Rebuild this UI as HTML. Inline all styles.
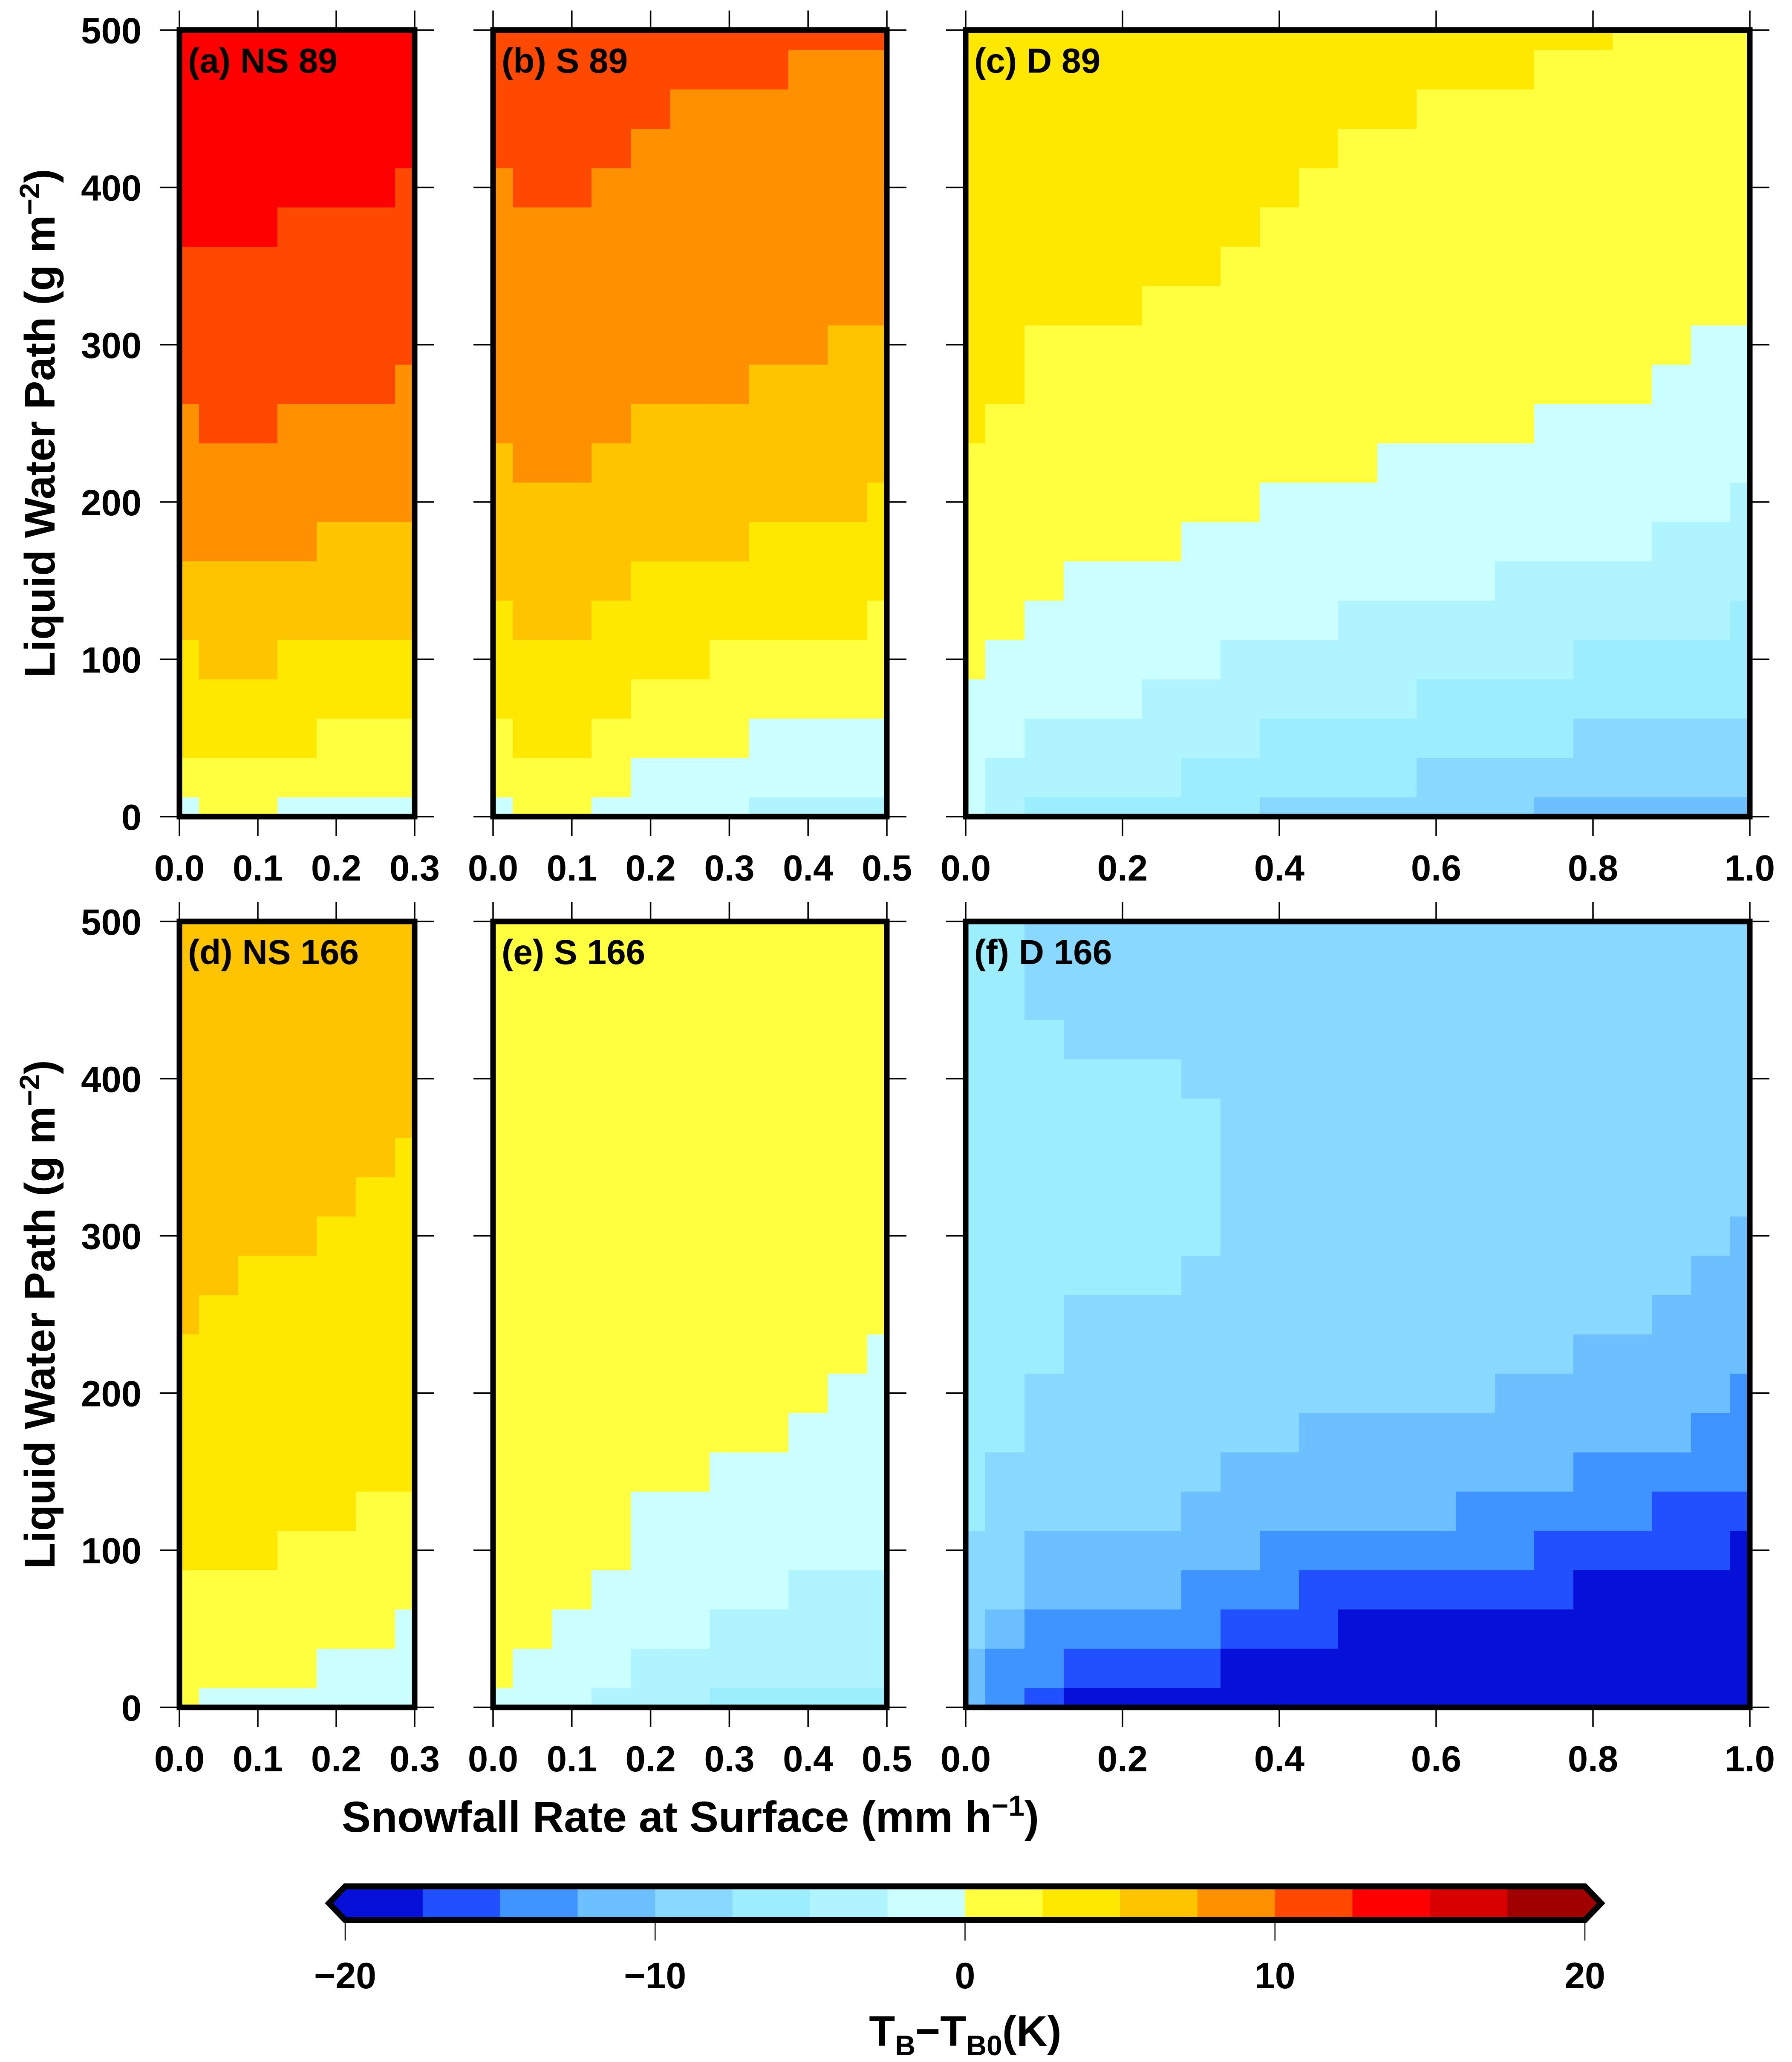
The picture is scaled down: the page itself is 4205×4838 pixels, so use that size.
<!DOCTYPE html>
<html>
<head>
<meta charset="utf-8">
<style>
html,body{margin:0;padding:0;background:#fff;}
svg{display:block;}
text{font-family:"Liberation Sans",Arial,sans-serif;font-weight:bold;fill:#000;}
</style>
</head>
<body>
<svg id="fig" xmlns="http://www.w3.org/2000/svg" width="4205" height="4838" viewBox="0 0 4205 4838">
<rect x="0" y="0" width="4205" height="4838" fill="#fff"/>
<g id="cells"></g>
<g id="frames"></g>
<g id="labels"></g>
<g id="cbar"></g>
</svg>
<script>
// ---- colour levels (bin edges, K) ----
const levelEdges = [-20,-17.5,-15,-12.5,-10,-7.5,-5,-2.5,0,2.5,5,7.5,10,12.5,15,17.5,20];
const levelColors = ["#0610d8","#2050ff","#4094ff","#6cc0ff","#88d8ff","#9ceeff","#b0f4ff","#ccffff","#ffff40","#ffe800","#ffc400","#ff9000","#ff4800","#ff0000","#d80000","#a00000"];
const cbarTicks = [-20,-10,0,10,20];
const cbarTickLabels = ["\u221220","\u221210","0","10","20"];

// ---- axes ----
const lwpTicks = [0,100,200,300,400,500];
const snowTicksNS = [0,0.1,0.2,0.3];
const snowTicksS = [0,0.1,0.2,0.3,0.4,0.5];
const snowTicksD = [0,0.2,0.4,0.6,0.8,1.0];
const snowStep = 0.05;   // grid spacing of snowfall rate
const lwpStep = 25;      // grid spacing of LWP

// ---- data: each array = one snowfall column, values (TB-TB0, K) for LWP 0,25,...,500 ----
const dataA = [
[-1,1,4,4,4,6,6,9,9,9,9,11,11,11,11,14,14,14,14,14,14],
[1,1,4,4,6,6,6,9,9,9,11,11,11,11,11,14,14,14,14,14,14],
[1,1,4,4,6,6,6,9,9,9,11,11,11,11,11,14,14,14,14,14,14],
[-1,1,4,4,4,6,6,9,9,9,9,11,11,11,11,11,14,14,14,14,14],
[-1,1,1,4,4,6,6,6,9,9,9,11,11,11,11,11,14,14,14,14,14],
[-1,1,1,4,4,6,6,6,9,9,9,11,11,11,11,11,14,14,14,14,14],
[-1,1,1,4,4,6,6,6,9,9,9,9,11,11,11,11,11,14,14,14,14]];
const dataB = [
[-1,1,1,4,4,4,6,6,6,6,9,9,9,9,9,9,9,11,11,11,11],
[1,1,4,4,4,6,6,6,6,9,9,9,9,9,9,9,11,11,11,11,11],
[1,1,4,4,4,6,6,6,6,9,9,9,9,9,9,9,11,11,11,11,11],
[-1,1,1,4,4,4,6,6,6,6,9,9,9,9,9,9,9,11,11,11,11],
[-1,-1,1,1,4,4,4,6,6,6,6,9,9,9,9,9,9,9,11,11,11],
[-1,-1,1,1,4,4,4,6,6,6,6,9,9,9,9,9,9,9,9,11,11],
[-1,-1,1,1,1,4,4,6,6,6,6,9,9,9,9,9,9,9,9,11,11],
[-4,-1,-1,1,1,4,4,4,6,6,6,6,9,9,9,9,9,9,9,11,11],
[-4,-1,-1,1,1,4,4,4,6,6,6,6,9,9,9,9,9,9,9,9,11],
[-4,-1,-1,1,1,4,4,4,6,6,6,6,6,9,9,9,9,9,9,9,11],
[-4,-1,-1,1,1,1,4,4,4,6,6,6,6,9,9,9,9,9,9,9,11]];
const dataC = [
[-1,-1,-1,-1,1,1,1,1,1,1,4,4,4,4,4,4,4,4,4,4,4],
[-4,-4,-1,-1,-1,1,1,1,1,1,1,4,4,4,4,4,4,4,4,4,4],
[-6,-4,-4,-1,-1,-1,1,1,1,1,1,1,1,4,4,4,4,4,4,4,4],
[-6,-4,-4,-1,-1,-1,-1,1,1,1,1,1,1,4,4,4,4,4,4,4,4],
[-6,-4,-4,-1,-1,-1,-1,1,1,1,1,1,1,4,4,4,4,4,4,4,4],
[-6,-4,-4,-4,-1,-1,-1,1,1,1,1,1,1,1,4,4,4,4,4,4,4],
[-6,-6,-4,-4,-1,-1,-1,-1,1,1,1,1,1,1,4,4,4,4,4,4,4],
[-6,-6,-4,-4,-4,-1,-1,-1,1,1,1,1,1,1,1,4,4,4,4,4,4],
[-9,-6,-6,-4,-4,-1,-1,-1,-1,1,1,1,1,1,1,1,4,4,4,4,4],
[-9,-6,-6,-4,-4,-1,-1,-1,-1,1,1,1,1,1,1,1,1,4,4,4,4],
[-9,-6,-6,-4,-4,-4,-1,-1,-1,1,1,1,1,1,1,1,1,1,4,4,4],
[-9,-6,-6,-4,-4,-4,-1,-1,-1,-1,1,1,1,1,1,1,1,1,4,4,4],
[-9,-9,-6,-6,-4,-4,-1,-1,-1,-1,1,1,1,1,1,1,1,1,1,4,4],
[-9,-9,-6,-6,-4,-4,-1,-1,-1,-1,1,1,1,1,1,1,1,1,1,4,4],
[-9,-9,-6,-6,-4,-4,-4,-1,-1,-1,1,1,1,1,1,1,1,1,1,4,4],
[-11,-9,-6,-6,-4,-4,-4,-1,-1,-1,-1,1,1,1,1,1,1,1,1,1,4],
[-11,-9,-9,-6,-6,-4,-4,-1,-1,-1,-1,1,1,1,1,1,1,1,1,1,4],
[-11,-9,-9,-6,-6,-4,-4,-1,-1,-1,-1,1,1,1,1,1,1,1,1,1,1],
[-11,-9,-9,-6,-6,-4,-4,-4,-1,-1,-1,-1,1,1,1,1,1,1,1,1,1],
[-11,-9,-9,-6,-6,-4,-4,-4,-1,-1,-1,-1,-1,1,1,1,1,1,1,1,1],
[-11,-9,-9,-6,-6,-6,-4,-4,-4,-1,-1,-1,-1,1,1,1,1,1,1,1,1]];
const dataD = [
[1,1,1,1,4,4,4,4,4,4,6,6,6,6,6,6,6,6,6,6,6],
[-1,1,1,1,4,4,4,4,4,4,4,6,6,6,6,6,6,6,6,6,6],
[-1,1,1,1,4,4,4,4,4,4,4,4,6,6,6,6,6,6,6,6,6],
[-1,1,1,1,1,4,4,4,4,4,4,4,6,6,6,6,6,6,6,6,6],
[-1,-1,1,1,1,4,4,4,4,4,4,4,4,6,6,6,6,6,6,6,6],
[-1,-1,1,1,1,1,4,4,4,4,4,4,4,4,6,6,6,6,6,6,6],
[-1,-1,-1,1,1,1,4,4,4,4,4,4,4,4,4,6,6,6,6,6,6]];
const dataE = [
[-1,1,1,1,1,1,1,1,1,1,1,1,1,1,1,1,1,1,1,1,1],
[-1,-1,1,1,1,1,1,1,1,1,1,1,1,1,1,1,1,1,1,1,1],
[-1,-1,-1,1,1,1,1,1,1,1,1,1,1,1,1,1,1,1,1,1,1],
[-4,-1,-1,-1,1,1,1,1,1,1,1,1,1,1,1,1,1,1,1,1,1],
[-4,-4,-1,-1,-1,-1,1,1,1,1,1,1,1,1,1,1,1,1,1,1,1],
[-4,-4,-1,-1,-1,-1,1,1,1,1,1,1,1,1,1,1,1,1,1,1,1],
[-6,-4,-4,-1,-1,-1,-1,1,1,1,1,1,1,1,1,1,1,1,1,1,1],
[-6,-4,-4,-1,-1,-1,-1,1,1,1,1,1,1,1,1,1,1,1,1,1,1],
[-6,-4,-4,-4,-1,-1,-1,-1,1,1,1,1,1,1,1,1,1,1,1,1,1],
[-6,-4,-4,-4,-1,-1,-1,-1,-1,1,1,1,1,1,1,1,1,1,1,1,1],
[-6,-4,-4,-4,-1,-1,-1,-1,-1,-1,1,1,1,1,1,1,1,1,1,1,1]];
const dataF = [
[-11,-11,-9,-9,-9,-6,-6,-6,-6,-6,-6,-6,-6,-6,-6,-6,-6,-6,-6,-6,-6],
[-14,-14,-11,-9,-9,-9,-9,-6,-6,-6,-6,-6,-6,-6,-6,-6,-6,-6,-6,-6,-6],
[-16,-14,-14,-11,-11,-9,-9,-9,-9,-6,-6,-6,-6,-6,-6,-6,-6,-6,-9,-9,-9],
[-19,-16,-14,-11,-11,-9,-9,-9,-9,-9,-9,-6,-6,-6,-6,-6,-6,-9,-9,-9,-9],
[-19,-16,-14,-11,-11,-9,-9,-9,-9,-9,-9,-6,-6,-6,-6,-6,-6,-9,-9,-9,-9],
[-19,-16,-14,-11,-11,-9,-9,-9,-9,-9,-9,-6,-6,-6,-6,-6,-6,-9,-9,-9,-9],
[-19,-16,-14,-14,-11,-11,-9,-9,-9,-9,-9,-9,-6,-6,-6,-6,-9,-9,-9,-9,-9],
[-19,-19,-16,-14,-11,-11,-11,-9,-9,-9,-9,-9,-9,-9,-9,-9,-9,-9,-9,-9,-9],
[-19,-19,-16,-14,-14,-11,-11,-9,-9,-9,-9,-9,-9,-9,-9,-9,-9,-9,-9,-9,-9],
[-19,-19,-16,-16,-14,-11,-11,-11,-9,-9,-9,-9,-9,-9,-9,-9,-9,-9,-9,-9,-9],
[-19,-19,-19,-16,-14,-11,-11,-11,-9,-9,-9,-9,-9,-9,-9,-9,-9,-9,-9,-9,-9],
[-19,-19,-19,-16,-14,-11,-11,-11,-9,-9,-9,-9,-9,-9,-9,-9,-9,-9,-9,-9,-9],
[-19,-19,-19,-16,-14,-11,-11,-11,-9,-9,-9,-9,-9,-9,-9,-9,-9,-9,-9,-9,-9],
[-19,-19,-19,-16,-14,-14,-11,-11,-9,-9,-9,-9,-9,-9,-9,-9,-9,-9,-9,-9,-9],
[-19,-19,-19,-16,-14,-14,-11,-11,-11,-9,-9,-9,-9,-9,-9,-9,-9,-9,-9,-9,-9],
[-19,-19,-19,-16,-16,-14,-11,-11,-11,-9,-9,-9,-9,-9,-9,-9,-9,-9,-9,-9,-9],
[-19,-19,-19,-19,-16,-14,-14,-11,-11,-11,-9,-9,-9,-9,-9,-9,-9,-9,-9,-9,-9],
[-19,-19,-19,-19,-16,-14,-14,-11,-11,-11,-9,-9,-9,-9,-9,-9,-9,-9,-9,-9,-9],
[-19,-19,-19,-19,-16,-16,-14,-11,-11,-11,-11,-9,-9,-9,-9,-9,-9,-9,-9,-9,-9],
[-19,-19,-19,-19,-16,-16,-14,-14,-11,-11,-11,-11,-9,-9,-9,-9,-9,-9,-9,-9,-9],
[-19,-19,-19,-19,-19,-16,-14,-14,-14,-11,-11,-11,-11,-9,-9,-9,-9,-9,-9,-9,-9]];

const NS = "http://www.w3.org/2000/svg";
function mk(tag, attrs, parent){
  const e = document.createElementNS(NS, tag);
  for (const k in attrs) e.setAttribute(k, attrs[k]);
  parent.appendChild(e);
  return e;
}
function colorOf(v){
  for (let b = 0; b < levelColors.length; b++){
    if (v < levelEdges[b+1]) return levelColors[b];
  }
  return levelColors[levelColors.length-1];
}

const panels = [
  {id:"a", title:"(a) NS 89",  data:dataA, xmax:0.3, ticks:snowTicksNS, px:[421,973],  py:[70.6,1916], ylab:true},
  {id:"b", title:"(b) S 89",   data:dataB, xmax:0.5, ticks:snowTicksS,  px:[1157,2081], py:[70.6,1916], ylab:false},
  {id:"c", title:"(c) D 89",   data:dataC, xmax:1.0, ticks:snowTicksD,  px:[2266,4106], py:[70.6,1916], ylab:false},
  {id:"d", title:"(d) NS 166", data:dataD, xmax:0.3, ticks:snowTicksNS, px:[421,973],  py:[2162,4006], ylab:true},
  {id:"e", title:"(e) S 166",  data:dataE, xmax:0.5, ticks:snowTicksS,  px:[1157,2081], py:[2162,4006], ylab:false},
  {id:"f", title:"(f) D 166",  data:dataF, xmax:1.0, ticks:snowTicksD,  px:[2266,4106], py:[2162,4006], ylab:false}
];

const gCells = document.getElementById('cells');
const gFrames = document.getElementById('frames');
const gLabels = document.getElementById('labels');
const TICK = 40;

panels.forEach(p => {
  const xs = v => p.px[0] + (v/p.xmax)*(p.px[1]-p.px[0]);
  const ys = v => p.py[1] - (v/500)*(p.py[1]-p.py[0]);
  const g = mk('g', {}, gCells);
  
  
  p.data.forEach((col, i) => {
    const xc = i*snowStep;
    const x0 = xs(Math.max(0, xc - snowStep/2)), x1 = xs(Math.min(p.xmax, xc + snowStep/2));
    col.forEach((v, k) => {
      const yc = k*lwpStep;
      const y0 = ys(Math.min(500, yc + lwpStep/2)), y1 = ys(Math.max(0, yc - lwpStep/2));
      const r = mk('rect', {x:x0.toFixed(1), y:y0.toFixed(1), width:(x1-x0+0.8).toFixed(1), height:(y1-y0+0.8).toFixed(1), fill:colorOf(v)}, g);
      
      
    });
  });
  // frame
  const fr = mk('rect', {x:p.px[0], y:p.py[0], width:p.px[1]-p.px[0], height:p.py[1]-p.py[0], fill:'none', stroke:'#000', 'stroke-width':13}, gFrames);
  
  
  // x ticks top & bottom
  p.ticks.forEach((t, j) => {
    const x = xs(t);
    mk('line', {x1:x, y1:p.py[1]+6, x2:x, y2:p.py[1]+6+TICK, stroke:'#000','stroke-width':3.5}, gFrames);
    mk('line', {x1:x, y1:p.py[0]-6, x2:x, y2:p.py[0]-6-TICK, stroke:'#000','stroke-width':3.5}, gFrames);
    const lab = mk('text', {x:x, y:p.py[1]+150, 'text-anchor':'middle', 'font-size':85}, gLabels);
    lab.textContent = t.toFixed(1);
    
    
  });
  // y ticks left & right
  lwpTicks.forEach(t => {
    const y = ys(t);
    mk('line', {x1:p.px[0]-6, y1:y, x2:p.px[0]-6-TICK, y2:y, stroke:'#000','stroke-width':3.5}, gFrames);
    mk('line', {x1:p.px[1]+6, y1:y, x2:p.px[1]+6+TICK, y2:y, stroke:'#000','stroke-width':3.5}, gFrames);
    if (p.ylab){
      const lab = mk('text', {x:332, y:y+31, 'text-anchor':'end', 'font-size':85}, gLabels);
      lab.textContent = String(t);
      
      
    }
  });
  const pt = mk('text', {x:p.px[0]+20, y:p.py[0]+100, 'font-size':82}, gLabels);
  pt.textContent = p.title;
  
  
});

// axis titles
[993, 3084].forEach(cy => {
  const t = mk('text', {x:0, y:0, 'text-anchor':'middle', 'font-size':100, transform:'translate(128,'+cy+') rotate(-90)'}, gLabels);
  
  
  t.appendChild(document.createTextNode('Liquid Water Path (g m'));
  const s = mk('tspan', {'font-size':66, dy:-36}, t); s.textContent = '\u22122';
  const s2 = mk('tspan', {dy:36}, t); s2.textContent = ')';
});
{
  const t = mk('text', {x:1620, y:4298, 'text-anchor':'middle', 'font-size':102}, gLabels);
  
  
  t.appendChild(document.createTextNode('Snowfall Rate at Surface (mm h'));
  const s = mk('tspan', {'font-size':68, dy:-38}, t); s.textContent = '\u22121';
  const s2 = mk('tspan', {dy:38}, t); s2.textContent = ')';
}

// colorbar
const gC = document.getElementById('cbar');


const cbX0 = 810, cbX1 = 3719, cbY0 = 4426, cbY1 = 4505;
const cbx = v => cbX0 + (v - levelEdges[0])/(levelEdges[levelEdges.length-1]-levelEdges[0])*(cbX1-cbX0);
levelColors.forEach((c, b) => {
  const r = mk('rect', {x:cbx(levelEdges[b]), y:cbY0, width:cbx(levelEdges[b+1])-cbx(levelEdges[b])+0.8, height:cbY1-cbY0, fill:c}, gC);
  
  
});
mk('polygon', {points:`${cbX0},${cbY0} ${cbX0-38},${(cbY0+cbY1)/2} ${cbX0},${cbY1}`, fill:levelColors[0]}, gC);
mk('polygon', {points:`${cbX1},${cbY0} ${cbX1+38},${(cbY0+cbY1)/2} ${cbX1},${cbY1}`, fill:levelColors[levelColors.length-1]}, gC);
mk('path', {d:`M${cbX0},${cbY0} L${cbX1},${cbY0} L${cbX1+38},${(cbY0+cbY1)/2} L${cbX1},${cbY1} L${cbX0},${cbY1} L${cbX0-38},${(cbY0+cbY1)/2} Z`, fill:'none', stroke:'#000', 'stroke-width':14, 'stroke-linejoin':'miter'}, gC);
cbarTicks.forEach((t, j) => {
  const x = cbx(t);
  mk('line', {x1:x, y1:cbY1+7, x2:x, y2:4553, stroke:'#000', 'stroke-width':2.5}, gC);
  const lab = mk('text', {x:x, y:4665, 'text-anchor':'middle', 'font-size':86}, gC);
  lab.textContent = cbarTickLabels[j];
  
  
});
{
  const t = mk('text', {x:2265, y:4800, 'text-anchor':'middle', 'font-size':100}, gC);
  
  
  t.appendChild(document.createTextNode('T'));
  const a = mk('tspan', {'font-size':66, dy:22}, t); a.textContent = 'B';
  const b = mk('tspan', {dy:-22}, t); b.textContent = '\u2212T';
  const c = mk('tspan', {'font-size':66, dy:22}, t); c.textContent = 'B0';
  const d = mk('tspan', {dy:-22}, t); d.textContent = '(K)';
}
</script>
</body>
</html>
